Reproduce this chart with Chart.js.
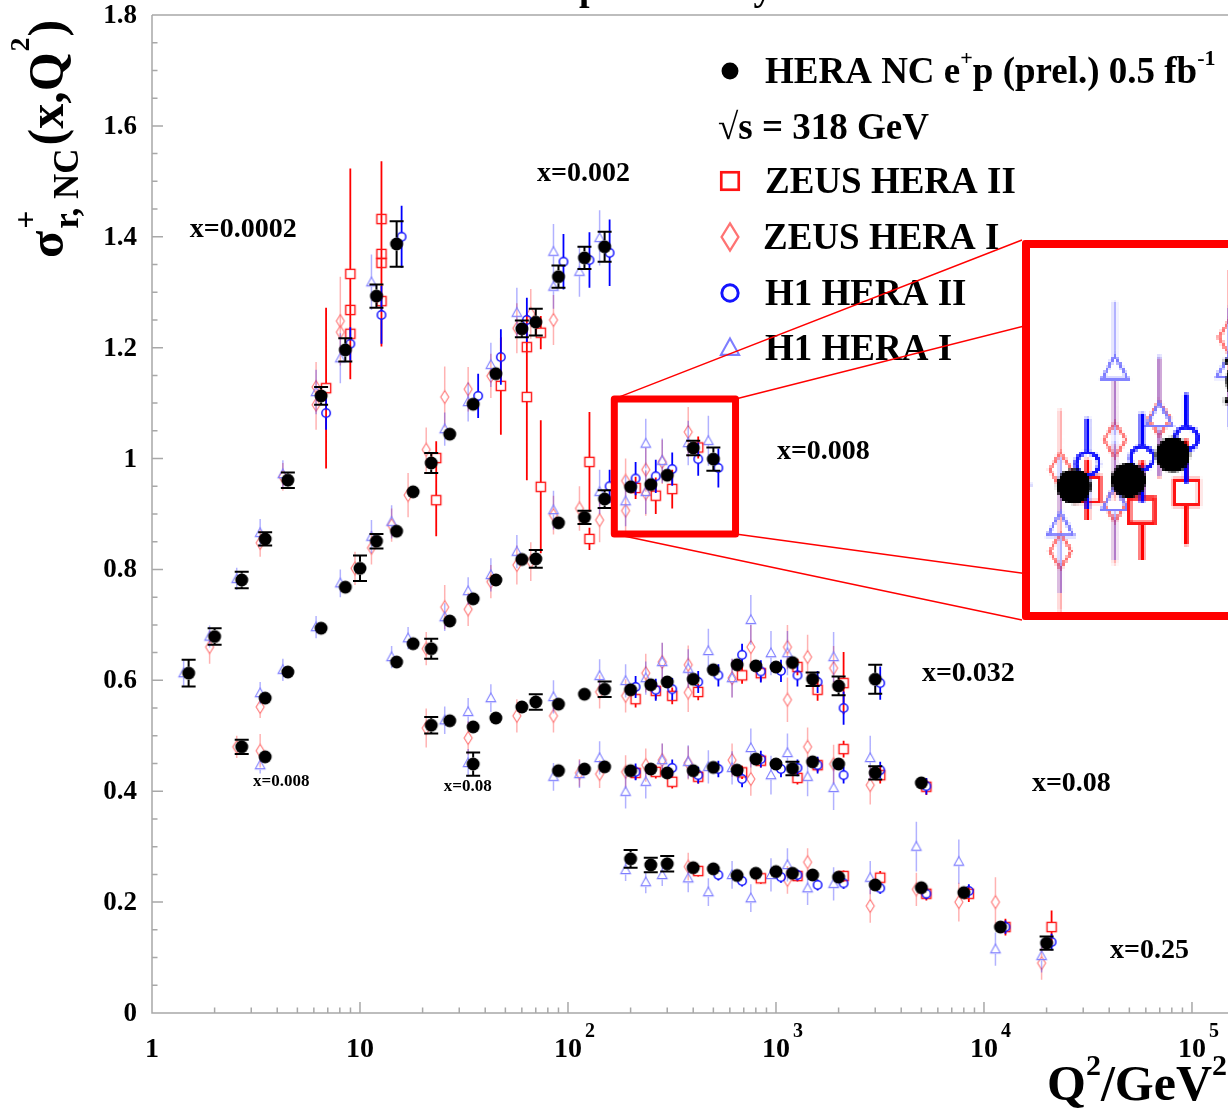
<!DOCTYPE html>
<html>
<head>
<meta charset="utf-8">
<title>Reduced NC cross section</title>
<script src="https://cdn.jsdelivr.net/npm/chart.js@4.4.1/dist/chart.umd.min.js"></script>
<style>
  html, body { margin: 0; padding: 0; background: #fff; overflow: hidden; }
  #wrap { position: relative; width: 1228px; height: 1109px; overflow: hidden; }
  #main { position: absolute; left: 0; top: 0; }
  #zoomBox { position: absolute; left: 1022px; top: 240px; border: 8px solid #ff0000; border-radius: 3px; background: #fff; }
  #zoom { display: block; image-rendering: pixelated; }
</style>
</head>
<body>
<div id="wrap">
  <canvas id="main" width="1228" height="1109"></canvas>
  <div id="zoomBox"><canvas id="zoom" width="327" height="364"></canvas></div>
</div>
<script>
// ---- data: Q2 in GeV^2, reduced cross section, total error ----

// HERA combined e+p (bins x=0.0002, 0.002, 0.008, 0.032, 0.08, 0.25, low-Q2 extras)
const heraQ2 = [
  1.5, 2, 2.7, 3.5, 4.5, 6.5, 8.5, 12, 15,
  3.5, 4.5, 6.5, 8.5, 10, 12, 15, 18, 22, 27, 35, 45, 60, 70, 90, 120, 150,
  15, 18, 22, 27, 35, 45, 60, 70, 90, 120, 150, 200, 250, 300, 400, 500,
  22, 27, 35, 45, 60, 70, 90, 120, 150, 200, 250, 300, 400, 500, 650, 800, 1000, 1200, 1500, 2000, 3000,
  35, 90, 120, 150, 200, 250, 300, 400, 500, 650, 800, 1000, 1200, 1500, 2000, 3000, 5000,
  200, 250, 300, 400, 500, 650, 800, 1000, 1200, 1500, 2000, 3000, 5000, 8000, 12000, 20000,
  2.7, 3.5
];
const heraSigma = [
  0.613, 0.679, 0.781, 0.855, 0.961, 1.113, 1.196, 1.293, 1.387,
  0.568, 0.615, 0.694, 0.768, 0.802, 0.851, 0.869, 0.940, 0.992, 1.044, 1.098, 1.153, 1.234, 1.246, 1.328, 1.362, 1.382,
  0.633, 0.666, 0.657, 0.707, 0.747, 0.781, 0.818, 0.819, 0.884, 0.894, 0.927, 0.949, 0.953, 0.970, 1.019, 0.999,
  0.519, 0.527, 0.516, 0.532, 0.552, 0.561, 0.557, 0.575, 0.584, 0.583, 0.592, 0.597, 0.602, 0.619, 0.628, 0.626, 0.624, 0.632, 0.602, 0.590, 0.602,
  0.449, 0.437, 0.440, 0.444, 0.437, 0.440, 0.433, 0.437, 0.443, 0.438, 0.458, 0.449, 0.441, 0.453, 0.449, 0.433, 0.415,
  0.278, 0.267, 0.269, 0.262, 0.260, 0.248, 0.252, 0.255, 0.252, 0.249, 0.245, 0.231, 0.226, 0.217, 0.155, 0.126,
  0.480, 0.462
];
const heraErr = [
  0.024, 0.015, 0.015, 0.012, 0.014, 0.016, 0.021, 0.021, 0.041,
  0.006, 0.011, 0.006, 0.010, 0.023, 0.013, 0.007, 0.006, 0.018, 0.007, 0.008, 0.008, 0.015, 0.024, 0.020, 0.020, 0.027,
  0.005, 0.005, 0.018, 0.005, 0.006, 0.006, 0.006, 0.016, 0.008, 0.012, 0.016, 0.008, 0.010, 0.010, 0.013, 0.021,
  0.015, 0.011, 0.005, 0.005, 0.005, 0.014, 0.005, 0.005, 0.014, 0.010, 0.010, 0.010, 0.010, 0.010, 0.010, 0.010, 0.010, 0.011, 0.012, 0.017, 0.026,
  0.021, 0.005, 0.005, 0.005, 0.008, 0.008, 0.008, 0.008, 0.008, 0.008, 0.008, 0.008, 0.012, 0.008, 0.008, 0.012, 0.010,
  0.016, 0.013, 0.014, 0.006, 0.006, 0.006, 0.006, 0.006, 0.006, 0.006, 0.006, 0.008, 0.008, 0.010, 0.010, 0.012,
  0.013, 0.005
];

// ZEUS HERA II
const zeus2Q2 = [
  6.5, 8.5, 8.5, 8.5, 12, 12, 12, 12,
  22, 22, 45, 60, 60, 70,
  70, 120, 120, 200, 250, 300, 400,
  200, 250, 300, 400, 650, 800, 1200, 1500, 2000,
  200, 250, 300, 400, 650, 800, 1200, 1500, 2000, 3000, 5000,
  400, 800, 1200, 2000, 3000, 5000, 8000, 12000, 20000
];
const zeus2Sigma = [
  1.127, 1.333, 1.268, 1.225, 1.432, 1.369, 1.353, 1.284,
  1.001, 0.925, 1.131, 1.201, 1.111, 1.227,
  0.949, 0.994, 0.855, 0.947, 0.933, 0.945, 1.020,
  0.566, 0.581, 0.572, 0.579, 0.609, 0.613, 0.624, 0.583, 0.595,
  0.433, 0.435, 0.417, 0.426, 0.434, 0.455, 0.424, 0.447, 0.476, 0.429, 0.408,
  0.256, 0.243, 0.247, 0.247, 0.244, 0.215, 0.215, 0.155, 0.155
];
const zeus2Err = [
  0.145, 0.190, 0.040, 0.040, 0.040, 0.167, 0.040, 0.040,
  0.030, 0.065, 0.088, 0.040, 0.150, 0.030,
  0.120, 0.090, 0.020, 0.020, 0.033, 0.035, 0.020,
  0.015, 0.015, 0.015, 0.015, 0.015, 0.015, 0.015, 0.020, 0.056,
  0.012, 0.012, 0.012, 0.012, 0.012, 0.012, 0.012, 0.012, 0.015, 0.015, 0.015,
  0.010, 0.010, 0.010, 0.010, 0.012, 0.012, 0.015, 0.015, 0.030
];

// ZEUS HERA I
const zeus1Q2 = [
  2, 3.5, 4.5, 6.5, 6.5, 8.5, 8.5,
  2.7, 3.5,
  3.5, 10, 12, 15, 18, 22, 27, 35, 45, 60, 70, 90,
  22, 27, 35, 45, 60, 70, 90, 120, 150, 200, 200, 250, 250, 300, 400,
  22, 35, 60, 90, 150, 200, 250, 300, 400, 400, 650, 800, 1200, 1200, 1500, 2000,
  120, 150, 200, 250, 300, 400, 650, 800, 1500, 2000, 3000,
  400, 1200, 1500, 3000, 5000, 8000, 12000, 20000
];
const zeus1Sigma = [
  0.660, 0.848, 0.967, 1.129, 1.097, 1.248, 1.228,
  0.480, 0.473,
  0.552, 0.802, 0.839, 0.880, 0.934, 1.016, 1.111, 1.125, 1.149, 1.235, 1.261, 1.250,
  0.657, 0.732, 0.728, 0.778, 0.808, 0.814, 0.898, 0.910, 0.889, 0.960, 0.906, 0.980, 0.937, 0.994, 1.048,
  0.514, 0.496, 0.536, 0.536, 0.579, 0.572, 0.613, 0.633, 0.628, 0.578, 0.604, 0.660, 0.660, 0.565, 0.642, 0.622,
  0.433, 0.431, 0.435, 0.447, 0.456, 0.451, 0.456, 0.422, 0.480, 0.449, 0.411,
  0.264, 0.240, 0.272, 0.193, 0.223, 0.200, 0.200, 0.090
];
const zeus1Err = [
  0.030, 0.025, 0.025, 0.045, 0.045, 0.080, 0.050,
  0.020, 0.030,
  0.020, 0.030, 0.030, 0.030, 0.040, 0.040, 0.055, 0.040, 0.040, 0.045, 0.045, 0.045,
  0.030, 0.040, 0.030, 0.030, 0.035, 0.035, 0.035, 0.040, 0.040, 0.040, 0.040, 0.040, 0.040, 0.040, 0.045,
  0.035, 0.030, 0.030, 0.030, 0.030, 0.030, 0.035, 0.035, 0.035, 0.035, 0.035, 0.040, 0.040, 0.040, 0.040, 0.040,
  0.025, 0.025, 0.030, 0.030, 0.030, 0.030, 0.030, 0.030, 0.035, 0.035, 0.035,
  0.025, 0.025, 0.025, 0.030, 0.030, 0.035, 0.045, 0.030
];

// H1 HERA II
const h1b2Q2 = [
  6.5, 8.5, 12, 15,
  35, 45, 60, 90, 120, 150,
  150, 200, 250, 300, 400, 500,
  200, 250, 300, 400, 500, 650, 800, 1000, 1200, 1500, 2000, 3000,
  200, 300, 400, 500, 650, 800, 1000, 1200, 1500, 2000, 3000, 5000,
  500, 650, 1000, 1200, 1500, 2000, 3000, 5000, 8000, 12000, 20000
];
const h1b2Sigma = [
  1.082, 1.207, 1.259, 1.400,
  1.113, 1.183, 1.250, 1.355, 1.358, 1.371,
  0.950, 0.964, 0.968, 0.981, 0.999, 0.983,
  0.588, 0.583, 0.584, 0.597, 0.609, 0.646, 0.616, 0.617, 0.609, 0.597, 0.550, 0.595,
  0.435, 0.442, 0.429, 0.440, 0.422, 0.458, 0.440, 0.442, 0.447, 0.429, 0.438, 0.409,
  0.249, 0.238, 0.245, 0.249, 0.231, 0.234, 0.225, 0.215, 0.220, 0.155, 0.128
];
const h1b2Err = [
  0.030, 0.030, 0.052, 0.056,
  0.040, 0.050, 0.040, 0.050, 0.050, 0.060,
  0.030, 0.030, 0.030, 0.030, 0.030, 0.035,
  0.020, 0.020, 0.020, 0.020, 0.020, 0.020, 0.020, 0.020, 0.020, 0.020, 0.030, 0.030,
  0.015, 0.015, 0.015, 0.015, 0.015, 0.015, 0.015, 0.015, 0.015, 0.015, 0.015, 0.015,
  0.010, 0.010, 0.010, 0.010, 0.010, 0.010, 0.010, 0.010, 0.012, 0.012, 0.015
];

// H1 HERA I
const h1b1Q2 = [
  1.5, 2, 2.7, 3.5, 4.5, 6.5, 8.5, 12,
  3.5,
  3.5, 4.5, 6.5, 8.5, 12, 15, 27, 35, 45, 60, 90, 90, 120, 150,
  15, 18, 27, 35, 45, 60, 90, 150, 200, 250, 250, 300, 400, 500,
  27, 35, 45, 90, 150, 200, 250, 300, 400, 500, 650, 800, 1000, 1200, 2000,
  35, 90, 120, 150, 200, 250, 300, 400, 500, 650, 800, 1000, 1200, 1500, 2000, 3000,
  200, 250, 300, 400, 500, 650, 800, 1000, 1200, 1500, 2000, 3000, 5000, 8000, 12000, 20000
];
const h1b1Sigma = [
  0.613, 0.679, 0.783, 0.866, 0.972, 1.120, 1.181, 1.318,
  0.447,
  0.577, 0.619, 0.696, 0.775, 0.859, 0.886, 1.053, 1.102, 1.169, 1.263, 1.373, 1.310, 1.337, 1.398,
  0.642, 0.676, 0.714, 0.761, 0.790, 0.832, 0.907, 0.940, 0.923, 1.027, 0.940, 0.996, 1.028, 1.032,
  0.528, 0.543, 0.568, 0.570, 0.608, 0.599, 0.604, 0.633, 0.621, 0.653, 0.604, 0.709, 0.649, 0.649, 0.642,
  0.451, 0.426, 0.431, 0.460, 0.399, 0.417, 0.456, 0.453, 0.444, 0.442, 0.478, 0.429, 0.469, 0.426, 0.406, 0.460,
  0.258, 0.236, 0.249, 0.243, 0.218, 0.249, 0.207, 0.249, 0.267, 0.225, 0.233, 0.244, 0.300, 0.273, 0.115, 0.103
];
const h1b1Err = [
  0.025, 0.020, 0.020, 0.025, 0.025, 0.040, 0.045, 0.050,
  0.015,
  0.020, 0.020, 0.020, 0.025, 0.030, 0.030, 0.030, 0.035, 0.040, 0.045, 0.050, 0.040, 0.045, 0.050,
  0.020, 0.020, 0.025, 0.025, 0.030, 0.030, 0.035, 0.040, 0.045, 0.045, 0.040, 0.040, 0.040, 0.045,
  0.025, 0.025, 0.025, 0.030, 0.030, 0.030, 0.030, 0.035, 0.035, 0.040, 0.035, 0.045, 0.040, 0.040, 0.045,
  0.025, 0.025, 0.025, 0.030, 0.030, 0.030, 0.030, 0.030, 0.030, 0.030, 0.035, 0.035, 0.035, 0.035, 0.040, 0.040,
  0.020, 0.020, 0.020, 0.025, 0.025, 0.025, 0.025, 0.030, 0.030, 0.030, 0.030, 0.030, 0.045, 0.040, 0.030, 0.030
];

const yTickValues = [0, 0.2, 0.4, 0.6, 0.8, 1, 1.2, 1.4, 1.6, 1.8];
const yTickLabels = ['0', '0.2', '0.4', '0.6', '0.8', '1', '1.2', '1.4', '1.6', '1.8'];
const xTickPowers = [0, 1, 2, 3, 4, 5];
const binLabels = ['x=0.0002', 'x=0.002', 'x=0.008', 'x=0.032', 'x=0.08', 'x=0.25', 'x=0.008', 'x=0.08'];

// ---- styling ----
const SERIF = '"Liberation Serif", "Times New Roman", serif';
const AXIS_GRAY = '#a8a8a8';
const RED = 'rgb(255,20,20)';
const PINK = 'rgb(255,115,115)';
const BLUE = 'rgb(20,20,255)';
const LILAC = 'rgb(125,125,255)';
const ZOOM = 2.7;                  // magnification of the inset
const zoomQ2 = [167, 639];         // region shown in the inset
const zoomSigma = [0.864, 1.1075];
const SHIFT_LEFT = Math.pow(10, -5 / 208);  // HERA I points drawn slightly left
const SHIFT_RIGHT = Math.pow(10, 5 / 208);  // HERA II points drawn slightly right

// half sizes used to keep error bars outside the marker outline
const MARKER_GAP = { dot: 6.5, square: 4.6, diamond: 6.5, circle: 4.2, triangle: 4.5 };

function makeMarker(kind, s) {
  const size = Math.ceil(16 * s) * 2;
  const c = document.createElement('canvas');
  c.width = c.height = size;
  const g = c.getContext('2d');
  g.translate(size / 2, size / 2);
  g.lineJoin = 'miter';
  switch (kind) {
    case 'dot':
      g.fillStyle = '#000';
      g.beginPath(); g.arc(0, 0, 6.5 * s, 0, 2 * Math.PI); g.fill();
      break;
    case 'square':
      g.strokeStyle = RED; g.lineWidth = 1.4 * s;
      g.strokeRect(-4.6 * s, -4.6 * s, 9.2 * s, 9.2 * s);
      break;
    case 'diamond':
      g.strokeStyle = PINK; g.lineWidth = 1.1 * s;
      g.beginPath();
      g.moveTo(0, -6.5 * s); g.lineTo(4 * s, 0); g.lineTo(0, 6.5 * s); g.lineTo(-4 * s, 0);
      g.closePath(); g.stroke();
      break;
    case 'circle':
      g.strokeStyle = BLUE; g.lineWidth = 1.5 * s;
      g.beginPath(); g.arc(0, 0, 4.2 * s, 0, 2 * Math.PI); g.stroke();
      break;
    case 'triangle':
      g.strokeStyle = LILAC; g.lineWidth = 1.1 * s;
      g.beginPath();
      g.moveTo(0, -5 * s); g.lineTo(4.8 * s, 3.6 * s); g.lineTo(-4.8 * s, 3.6 * s);
      g.closePath(); g.stroke();
      break;
  }
  return c;
}

function series(label, q2, sigma, err, shift, kind, k, errColor, errWidth, errCap) {
  const marker = makeMarker(kind, k);
  return {
    label: label,
    data: q2.map((q, i) => ({ x: q * shift, y: sigma[i], err: err[i] })),
    pointStyle: marker,
    pointRadius: marker.width / 2,
    pointHoverRadius: marker.width / 2,
    errColor: errColor,
    errWidth: errWidth,
    errCap: errCap,
    errGap: MARKER_GAP[kind],
  };
}

// first dataset is painted last, so the combined points sit on top
function buildDatasets(k) {
  return [
    series('HERA NC e+p', heraQ2, heraSigma, heraErr, 1, 'dot', k, '#000', 2, 7),
    series('H1 HERA II', h1b2Q2, h1b2Sigma, h1b2Err, SHIFT_RIGHT, 'circle', k, 'rgb(0,0,255)', 1.8, 0),
    series('ZEUS HERA II', zeus2Q2, zeus2Sigma, zeus2Err, SHIFT_RIGHT, 'square', k, 'rgb(255,0,0)', 1.8, 0),
    series('H1 HERA I', h1b1Q2, h1b1Sigma, h1b1Err, SHIFT_LEFT, 'triangle', k, 'rgba(0,0,255,0.3)', 1.5, 0),
    series('ZEUS HERA I', zeus1Q2, zeus1Sigma, zeus1Err, SHIFT_LEFT, 'diamond', k, 'rgba(255,0,0,0.3)', 1.5, 0),
  ];
}

// vertical error bars, drawn just before each dataset's markers
const errorBars = {
  id: 'errorBars',
  beforeDatasetDraw(chart, args, opts) {
    const { ctx, chartArea: a, scales: { x, y } } = chart;
    const k = opts.scale || 1;
    const ds = chart.data.datasets[args.index];
    const gap = ds.errGap * k;
    ctx.save();
    ctx.beginPath();
    ctx.rect(a.left, a.top, a.right - a.left, a.bottom - a.top);
    ctx.clip();
    ctx.strokeStyle = ds.errColor;
    ctx.lineWidth = ds.errWidth * k;
    ctx.beginPath();
    ds.data.forEach(p => {
      const px = x.getPixelForValue(p.x);
      const py = y.getPixelForValue(p.y);
      const top = y.getPixelForValue(p.y + p.err);
      const bot = y.getPixelForValue(p.y - p.err);
      if (py - top > gap) {
        ctx.moveTo(px, py - gap); ctx.lineTo(px, top);
        if (ds.errCap) { ctx.moveTo(px - ds.errCap * k, top); ctx.lineTo(px + ds.errCap * k, top); }
      }
      if (bot - py > gap) {
        ctx.moveTo(px, py + gap); ctx.lineTo(px, bot);
        if (ds.errCap) { ctx.moveTo(px - ds.errCap * k, bot); ctx.lineTo(px + ds.errCap * k, bot); }
      }
    });
    ctx.stroke();
    ctx.restore();
  }
};

// text with superscript / subscript runs
function richText(ctx, x, y, parts, size) {
  parts.forEach(([t, kind]) => {
    const sz = kind ? Math.round(size * 0.6) : size;
    const dy = kind === 'sup' ? -size * 0.5 : kind === 'sub' ? size * 0.25 : 0;
    ctx.font = `bold ${sz}px ${SERIF}`;
    ctx.fillText(t, x, y + dy);
    x += ctx.measureText(t).width;
  });
  return x;
}

// axes frame with inward ticks
const frame = {
  id: 'frame',
  beforeDatasetsDraw(chart) {
    const { ctx, chartArea: a, scales: { x, y } } = chart;
    ctx.save();
    ctx.strokeStyle = AXIS_GRAY;
    ctx.lineWidth = 1.5;
    ctx.beginPath();
    ctx.moveTo(a.left, a.top); ctx.lineTo(a.right, a.top);
    ctx.moveTo(a.left, a.top); ctx.lineTo(a.left, a.bottom); ctx.lineTo(a.right, a.bottom);
    for (let i = 0; i <= 36; i++) {
      const py = y.getPixelForValue(i * 0.05);
      ctx.moveTo(a.left, py); ctx.lineTo(a.left + (i % 4 === 0 ? 11 : 5.5), py);
    }
    for (let p = 0; p <= 5; p++) {
      for (let m = 1; m <= 9; m++) {
        const v = m * Math.pow(10, p);
        if (v > x.max) break;
        const px = x.getPixelForValue(v);
        ctx.moveTo(px, a.bottom); ctx.lineTo(px, a.bottom - (m === 1 ? 11 : 5.5));
      }
    }
    ctx.stroke();
    ctx.restore();
  }
};

const legendRows = [
  { kind: 'dot', s: 1.3, y: 71, tx: 765, parts: [['HERA NC e'], ['+', 'sup'], ['p (prel.) 0.5 fb'], ['-1', 'sup']] },
  { kind: null, y: 127, tx: 718, parts: [['\u221As = 318 GeV']] },
  { kind: 'square', s: 1.9, y: 181, tx: 765, parts: [['ZEUS HERA II']] },
  { kind: 'diamond', s: 2.1, y: 237, tx: 763, parts: [['ZEUS HERA I']] },
  { kind: 'circle', s: 1.95, y: 293, tx: 765, parts: [['H1 HERA II']] },
  { kind: 'triangle', s: 1.9, y: 348, tx: 765, parts: [['H1 HERA I']] },
];

// where each x-bin label sits, in (Q2, sigma) and its font size
const binLabelAnchors = [
  [1.52, 1.40, 28], [71, 1.50, 28], [1010, 0.999, 28], [5030, 0.599, 28],
  [17000, 0.40, 28], [40350, 0.10, 28], [3.06, 0.409, 17], [25.3, 0.40, 17]
];

const decor = {
  id: 'decor',
  afterDraw(chart) {
    const { ctx, chartArea: a, scales: { x, y } } = chart;
    ctx.save();
    ctx.fillStyle = '#000';

    // title cut by the top edge
    ctx.font = `bold 38px ${SERIF}`;
    ctx.textBaseline = 'alphabetic';
    ctx.textAlign = 'left';
    ctx.fillText('preliminary', 579, 0);

    // y tick labels
    ctx.font = `bold 27px ${SERIF}`;
    ctx.textAlign = 'right';
    ctx.textBaseline = 'middle';
    yTickValues.forEach((v, i) => ctx.fillText(yTickLabels[i], a.left - 15, y.getPixelForValue(v) + 1));

    // x tick labels, powers of ten
    ctx.textBaseline = 'alphabetic';
    xTickPowers.forEach(p => {
      const px = x.getPixelForValue(Math.pow(10, p));
      const base = p === 0 ? '1' : '10';
      ctx.font = `bold 28px ${SERIF}`;
      ctx.textAlign = 'center';
      ctx.fillText(base, px, 1057);
      if (p > 1) {
        const w = ctx.measureText(base).width;
        ctx.font = `bold 20px ${SERIF}`;
        ctx.textAlign = 'left';
        ctx.fillText(String(p), px + w / 2 + 3, 1037);
      }
    });

    // axis titles
    ctx.textAlign = 'left';
    const xt = [['Q'], ['2', 'sup'], ['/GeV'], ['2', 'sup']];
    let w = 0;
    xt.forEach(([t, k]) => { ctx.font = `bold ${k ? 30 : 50}px ${SERIF}`; w += ctx.measureText(t).width; });
    richText(ctx, 1227 - w, 1100, xt, 50);

    ctx.save();
    ctx.translate(63, 258);
    ctx.rotate(-Math.PI / 2);
    ctx.font = `bold 50px ${SERIF}`;
    ctx.fillText('\u03C3', 0, 0);
    let cx = ctx.measureText('\u03C3').width + 2;
    ctx.font = `bold 32px ${SERIF}`;
    ctx.fillText('+', cx, -27);
    ctx.font = `bold 35px ${SERIF}`;
    ctx.fillText('r, NC', cx, 15);
    cx += ctx.measureText('r, NC').width + 3;
    ctx.font = `bold 50px ${SERIF}`;
    ctx.fillText('(x,Q', cx, 0);
    cx += ctx.measureText('(x,Q').width + 1;
    ctx.font = `bold 28px ${SERIF}`;
    ctx.fillText('2', cx, -34);
    cx += ctx.measureText('2').width + 1;
    ctx.font = `bold 50px ${SERIF}`;
    ctx.fillText(')', cx, 0);
    ctx.restore();

    // x-bin labels
    binLabels.forEach((t, i) => {
      const [q, s, size] = binLabelAnchors[i];
      ctx.font = `bold ${size}px ${SERIF}`;
      ctx.fillText(t, x.getPixelForValue(q), y.getPixelForValue(s));
    });

    // legend
    legendRows.forEach(r => {
      if (r.kind) {
        const m = makeMarker(r.kind, r.s);
        ctx.drawImage(m, 730 - m.width / 2, r.y - m.height / 2);
      }
      richText(ctx, r.tx, r.y + 12, r.parts, 37);
    });

    // magnified region and the lines leading to the inset
    const l = x.getPixelForValue(zoomQ2[0]), r = x.getPixelForValue(zoomQ2[1]);
    const t = y.getPixelForValue(zoomSigma[1]), b = y.getPixelForValue(zoomSigma[0]);
    const box = document.getElementById('zoomBox');
    const il = box.offsetLeft, it = box.offsetTop;
    const ir = il + box.offsetWidth, ib = it + box.offsetHeight;
    ctx.strokeStyle = '#ff0000';
    ctx.lineWidth = 1.4;
    ctx.beginPath();
    ctx.moveTo(l, t); ctx.lineTo(il, it);
    ctx.moveTo(r, t); ctx.lineTo(ir, it);
    ctx.moveTo(l, b); ctx.lineTo(il, ib);
    ctx.moveTo(r, b); ctx.lineTo(ir, ib);
    ctx.stroke();
    ctx.lineWidth = 7;
    ctx.lineJoin = 'round';
    ctx.strokeRect(l, t, r - l, b - t);
    ctx.restore();
  }
};

const whiteBg = {
  id: 'whiteBg',
  beforeDraw(chart) {
    const { ctx, width, height } = chart;
    ctx.save();
    ctx.fillStyle = '#fff';
    ctx.fillRect(0, 0, width, height);
    ctx.restore();
  }
};

new Chart(document.getElementById('main'), {
  type: 'scatter',
  data: { datasets: buildDatasets(1) },
  options: {
    responsive: false,
    animation: false,
    events: [],
    devicePixelRatio: 1,
    layout: { autoPadding: false, padding: { left: 152, top: 15, right: 0, bottom: 96 } },
    plugins: {
      legend: { display: false },
      tooltip: { enabled: false },
      errorBars: { scale: 1 },
    },
    scales: {
      x: { type: 'logarithmic', min: 1, max: 1.49e5, display: false },
      y: { type: 'linear', min: 0, max: 1.8, display: false },
    },
  },
  plugins: [whiteBg, frame, errorBars, decor],
});

// inset: same points, magnified and rendered coarse
new Chart(document.getElementById('zoom'), {
  type: 'scatter',
  data: { datasets: buildDatasets(ZOOM) },
  options: {
    responsive: false,
    animation: false,
    events: [],
    devicePixelRatio: 1 / ZOOM,
    layout: { autoPadding: false, padding: 0 },
    plugins: {
      legend: { display: false },
      tooltip: { enabled: false },
      errorBars: { scale: ZOOM },
    },
    scales: {
      x: { type: 'logarithmic', min: zoomQ2[0], max: zoomQ2[1], display: false },
      y: { type: 'linear', min: zoomSigma[0], max: zoomSigma[1], display: false },
    },
  },
  plugins: [whiteBg, errorBars],
});
</script>
</body>
</html>
